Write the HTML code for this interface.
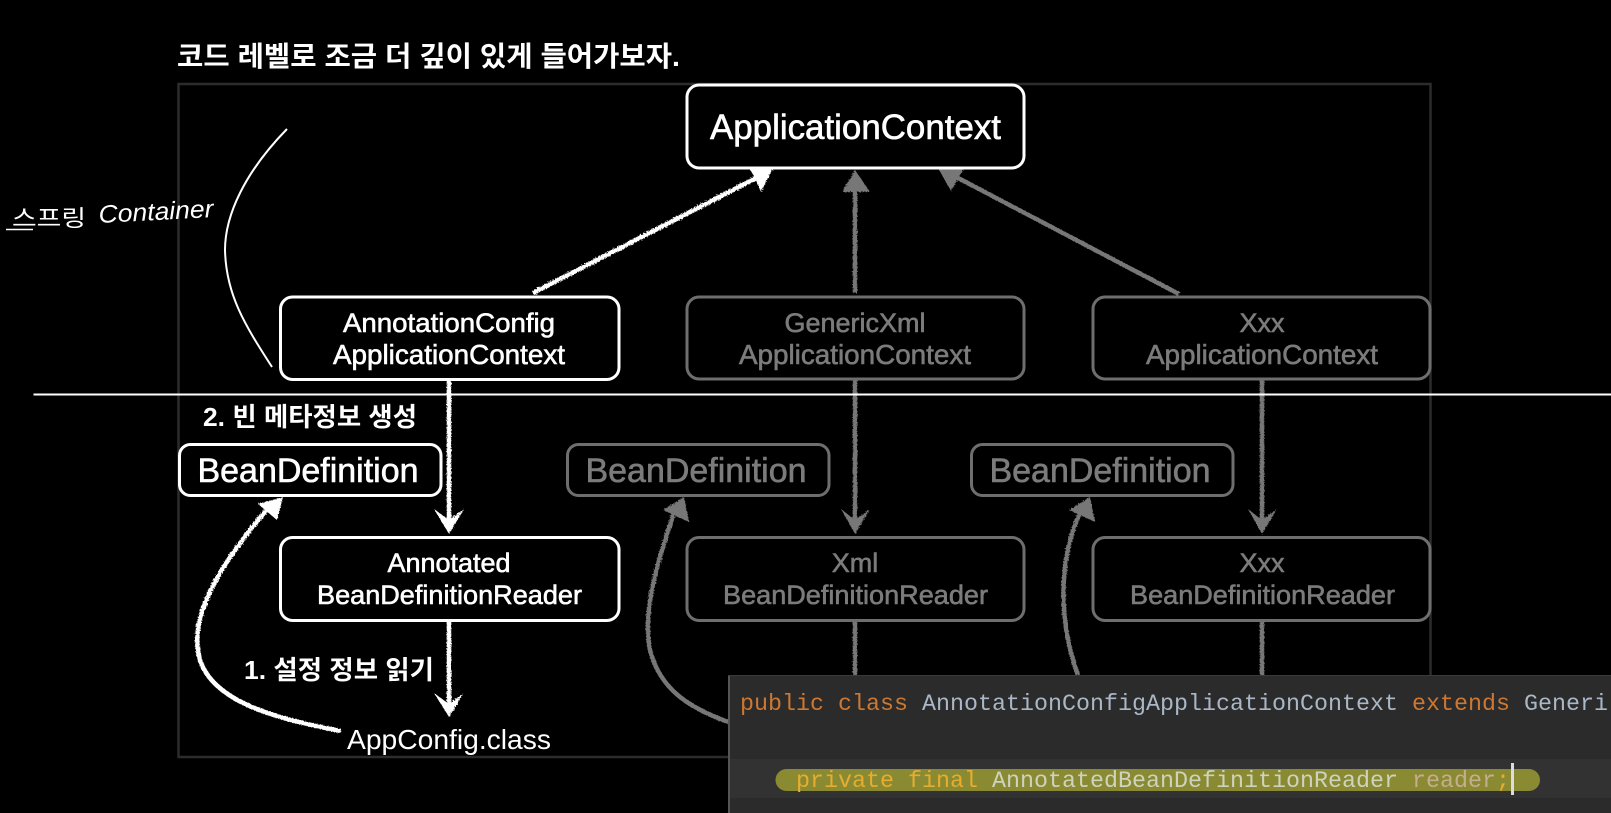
<!DOCTYPE html>
<html lang="ko">
<head>
<meta charset="utf-8">
<title>ApplicationContext diagram</title>
<style>
html,body{margin:0;padding:0;background:#000;width:1611px;height:813px;overflow:hidden}
svg{display:block}
.sans{font-family:"Liberation Sans","Noto Sans CJK KR",sans-serif}
.kr{font-family:"Liberation Sans","Noto Sans CJK KR",sans-serif;font-weight:700;fill:#fff}
.w{fill:#fff;stroke:#fff;stroke-width:.6px}
.g{fill:#7b7b7b;stroke:#7b7b7b;stroke-width:.6px}
.mono{font-family:"Liberation Mono",monospace;font-size:23.33px;white-space:pre}
</style>
</head>
<body>
<svg width="1611" height="813" viewBox="0 0 1611 813" xmlns="http://www.w3.org/2000/svg">
<defs>
<filter id="rough" filterUnits="userSpaceOnUse" x="0" y="0" width="1611" height="813">
<feTurbulence type="fractalNoise" baseFrequency="0.7" numOctaves="2" seed="4" result="n"/>
<feDisplacementMap in="SourceGraphic" in2="n" scale="3.2"/>
</filter>
</defs>
<rect width="1611" height="813" fill="#000"/>

<text class="kr" x="177" y="66" font-size="28" textLength="503" lengthAdjust="spacingAndGlyphs">코드 레벨로 조금 더 깊이 있게 들어가보자.</text>

<rect x="178.5" y="84" width="1252" height="673" fill="none" stroke="#2c2c2c" stroke-width="2.5"/>

<!-- gray arrows -->
<g filter="url(#rough)" fill="none" stroke="#777" stroke-width="4.5">
<path d="M855 293V186"/>
<path d="M1179 294L958 178"/>
<path d="M855 380V522"/>
<path d="M1262 380V522"/>
<path d="M855 621V676"/>
<path d="M1262 621V676"/>
<path d="M728 722C690 708 660 690 650 650C642 610 658 560 675 510"/>
<path d="M1078 675C1065 640 1060 600 1066 560C1070 535 1075 525 1081 510"/>
<g fill="#777" stroke="none">
<path d="M855 170L870 192H842Z"/>
<path d="M938 168H964L951 191Z"/>
<path d="M841 509L855 520L870 509L855 534Z"/>
<path d="M1248 509L1262 520L1277 509L1262 534Z"/>
<path d="M684 497L663 510L689 522Z"/>
<path d="M1090 497L1069 510L1095 522Z"/>
</g>
</g>

<!-- white arrows -->
<g filter="url(#rough)" fill="none" stroke="#fff" stroke-width="4.5">
<path d="M533 293L756 178"/>
<path d="M449 380V522"/>
<path d="M449 621V705"/>
<path d="M341 731C270 718 213 700 200 660C188 620 215 570 269 507"/>
<g fill="#fff" stroke="none">
<path d="M773 168H749L755 178L761 192Z"/>
<path d="M434 509L449 520L464 509L449 534Z"/>
<path d="M434 693L449 704L464 693L449 717Z"/>
<path d="M283 497L258 504L277 520Z"/>
</g>
</g>

<!-- boxes -->
<g fill="#000" stroke="#fff" stroke-width="3">
<rect x="687" y="85" width="337" height="83" rx="12"/>
<rect x="280.5" y="297" width="338.5" height="82.5" rx="12"/>
<rect x="179.5" y="444.5" width="261.5" height="51" rx="11"/>
<rect x="280.5" y="537.5" width="338.5" height="83" rx="12"/>
</g>
<g fill="#000" stroke="#6e6e6e" stroke-width="3">
<rect x="687" y="297" width="337" height="82" rx="12"/>
<rect x="1093" y="297" width="337" height="82" rx="12"/>
<rect x="567.5" y="444.5" width="261.5" height="51" rx="11"/>
<rect x="971.5" y="444.5" width="261.5" height="51" rx="11"/>
<rect x="687" y="537.5" width="337" height="83" rx="12"/>
<rect x="1093" y="537.5" width="337" height="83" rx="12"/>
</g>

<!-- box labels -->
<g class="sans">
<text class="w" x="710" y="139" font-size="35" textLength="291" lengthAdjust="spacingAndGlyphs">ApplicationContext</text>
<text class="w" x="343" y="332" font-size="27" textLength="212" lengthAdjust="spacingAndGlyphs">AnnotationConfig</text>
<text class="w" x="333" y="364" font-size="27.7" textLength="232" lengthAdjust="spacingAndGlyphs">ApplicationContext</text>
<text class="g" x="855" y="332" font-size="27" text-anchor="middle">GenericXml</text>
<text class="g" x="739" y="364" font-size="27.7" textLength="232" lengthAdjust="spacingAndGlyphs">ApplicationContext</text>
<text class="g" x="1262" y="332" font-size="27" text-anchor="middle">Xxx</text>
<text class="g" x="1146" y="364" font-size="27.7" textLength="232" lengthAdjust="spacingAndGlyphs">ApplicationContext</text>
<text class="w" x="197.5" y="482" font-size="33.8" textLength="221" lengthAdjust="spacingAndGlyphs">BeanDefinition</text>
<text class="g" x="585.5" y="482" font-size="33.8" textLength="221" lengthAdjust="spacingAndGlyphs">BeanDefinition</text>
<text class="g" x="989.5" y="482" font-size="33.8" textLength="221" lengthAdjust="spacingAndGlyphs">BeanDefinition</text>
<text class="w" x="449" y="572" font-size="27" text-anchor="middle">Annotated</text>
<text class="w" x="317" y="604" font-size="27" textLength="265" lengthAdjust="spacingAndGlyphs">BeanDefinitionReader</text>
<text class="g" x="855" y="572" font-size="27" text-anchor="middle">Xml</text>
<text class="g" x="723" y="604" font-size="27" textLength="265" lengthAdjust="spacingAndGlyphs">BeanDefinitionReader</text>
<text class="g" x="1262" y="572" font-size="27" text-anchor="middle">Xxx</text>
<text class="g" x="1130" y="604" font-size="27" textLength="265" lengthAdjust="spacingAndGlyphs">BeanDefinitionReader</text>
<text x="347" y="749" font-size="28" fill="#fff" textLength="204" lengthAdjust="spacingAndGlyphs">AppConfig.class</text>
</g>

<text class="kr" x="203" y="426" font-size="26" textLength="214" lengthAdjust="spacingAndGlyphs">2. 빈 메타정보 생성</text>
<text class="kr" x="244" y="679" font-size="26" textLength="190" lengthAdjust="spacingAndGlyphs">1. 설정 정보 읽기</text>

<!-- divider -->
<path d="M33.5 394.5H1611" stroke="#fff" stroke-width="2" fill="none"/>

<!-- hand annotation -->
<path d="M287 129C245 172 225 215 225 250C226 295 245 325 272 367" fill="none" stroke="#fff" stroke-width="2"/>
<text x="12" y="226" font-size="23" fill="#fff" font-family="'Liberation Sans','Noto Sans CJK KR',sans-serif" textLength="74" lengthAdjust="spacingAndGlyphs">스프링</text>
<path d="M6 229.5H33" stroke="#fff" stroke-width="1.5" fill="none"/>
<text transform="translate(99 223) rotate(-3)" font-size="25" font-style="italic" fill="#fff" font-family="'Liberation Sans',sans-serif" textLength="115" lengthAdjust="spacingAndGlyphs">Container</text>

<!-- code panel -->
<rect x="728" y="675" width="883" height="138" fill="#2b2b2b"/>
<path d="M729 675V813" stroke="#555" stroke-width="2" fill="none"/>
<path d="M728 675.5H1611" stroke="#3a3a3a" stroke-width="1" fill="none"/>
<rect x="730" y="759" width="881" height="39" fill="#323232"/>
<rect x="775.5" y="769" width="764.5" height="22" rx="11" fill="#8a8a33"/>
<text class="mono" x="740" y="710"><tspan fill="#cc7832">public class </tspan><tspan fill="#a9b7c6">AnnotationConfigApplicationContext </tspan><tspan fill="#cc7832">extends </tspan><tspan fill="#a9b7c6">Generi</tspan></text>
<text class="mono" x="796" y="787"><tspan fill="#e6ad2e">private final </tspan><tspan fill="#ced3bd">AnnotatedBeanDefinitionReader </tspan><tspan fill="#c4ae8e">reader</tspan><tspan fill="#e6ad2e">;</tspan></text>
<rect x="1511" y="763" width="3" height="32" fill="#dcdcdc"/>
</svg>
</body>
</html>
